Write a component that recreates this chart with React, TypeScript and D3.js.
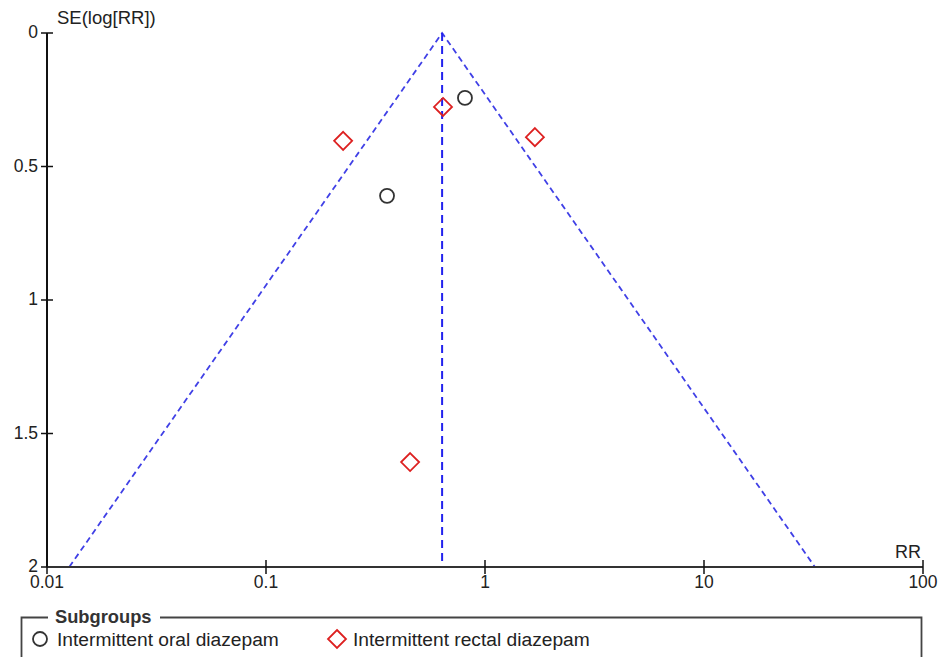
import React from "react";
import * as d3 from "d3";

const studyRR = [0.81, 0.357, 0.643, 0.225, 1.69, 0.455];
const studySE = [0.243, 0.61, 0.277, 0.404, 0.39, 1.607];
const studyGroup = ["oral", "oral", "rectal", "rectal", "rectal", "rectal"];
const pooledRR = 0.637;
const xTicks = [0.01, 0.1, 1, 10, 100];
const xTickLabels = ["0.01", "0.1", "1", "10", "100"];
const yTicks = [0, 0.5, 1, 1.5, 2];
const yTickLabels = ["0", "0.5", "1", "1.5", "2"];
const groupLabels = ["Intermittent oral diazepam", "Intermittent rectal diazepam"];

const W = 940;
const H = 657;
const FONT = "'Liberation Sans', Arial, sans-serif";

export default function App() {
  const x = d3.scaleLog().domain([0.01, 100]).range([47, 923]);
  const y = d3.scaleLinear().domain([0, 2]).range([33, 567]);
  const seMax = 2;
  const lo = pooledRR * Math.exp(-1.96 * seMax);
  const hi = pooledRR * Math.exp(1.96 * seMax);
  const line = d3.line<[number, number]>().x((d) => x(d[0])).y((d) => y(d[1]));
  const blue = "#2222ee";
  const red = "#dd2020";
  const dark = "#333";

  const diamond = (cx: number, cy: number, r: number) =>
    `M${cx},${cy - r}L${cx + r},${cy}L${cx},${cy + r}L${cx - r},${cy}Z`;

  return (
    <div style={{ position: "absolute", left: 0, top: 0 }}>
      <svg width={W} height={H} style={{ display: "block", fontFamily: FONT }}>
        <rect width={W} height={H} fill="#fff" />
        {/* funnel */}
        <path d={line([[lo, seMax], [pooledRR, 0], [hi, seMax]]) || ""} fill="none" stroke="#4040e6" strokeWidth={1.8} strokeDasharray="6,4" />
        <path d={line([[pooledRR, 0], [pooledRR, seMax]]) || ""} fill="none" stroke={blue} strokeWidth={2} strokeDasharray="8,5" />
        {/* y axis */}
        <line x1={47} x2={47} y1={y(0)} y2={y(2)} stroke="#111" strokeWidth={2} />
        {yTicks.map((t, i) => (
          <g key={"y" + i}>
            <line x1={41} x2={53} y1={y(t)} y2={y(t)} stroke="#111" strokeWidth={1.5} />
            <text x={38} y={y(t) - 1} dy="0.35em" textAnchor="end" fontSize={17.5} fill="#222">{yTickLabels[i]}</text>
          </g>
        ))}
        <text x={57} y={24} fontSize={18.5} fill="#222">SE(log[RR])</text>
        {/* x axis */}
        <line x1={47} x2={923} y1={567} y2={567} stroke="#333" strokeWidth={2} />
        {xTicks.map((t, i) => (
          <g key={"x" + i}>
            <line x1={x(t)} x2={x(t)} y1={560} y2={574} stroke="#111" strokeWidth={1.5} />
            <text x={x(t)} y={588} textAnchor="middle" fontSize={17.5} fill="#222">{xTickLabels[i]}</text>
          </g>
        ))}
        <text x={921} y={558} textAnchor="end" fontSize={18} fill="#222">RR</text>
        {/* points */}
        {studyRR.map((rr, i) =>
          studyGroup[i] === "oral" ? (
            <circle key={"p" + i} cx={x(rr)} cy={y(studySE[i])} r={7} fill="none" stroke={dark} strokeWidth={1.8} />
          ) : (
            <path key={"p" + i} d={diamond(x(rr), y(studySE[i]), 9)} fill="none" stroke={red} strokeWidth={1.8} />
          )
        )}
        {/* legend */}
        <path d="M48,617.5H21.5V665" fill="none" stroke="#444" strokeWidth={1.8} />
        <path d="M160,617.5H921.5V665" fill="none" stroke="#444" strokeWidth={1.8} />
        <text x={55} y={623} fontSize={18.3} fontWeight="bold" fill="#333">Subgroups</text>
        <circle cx={40} cy={639} r={7} fill="none" stroke={dark} strokeWidth={1.8} />
        <text x={57} y={646} fontSize={19.2} fill="#222">{groupLabels[0]}</text>
        <path d={diamond(337, 639, 9)} fill="none" stroke={red} strokeWidth={1.8} />
        <text x={353} y={646} fontSize={19.2} fill="#222">{groupLabels[1]}</text>
      </svg>
    </div>
  );
}
